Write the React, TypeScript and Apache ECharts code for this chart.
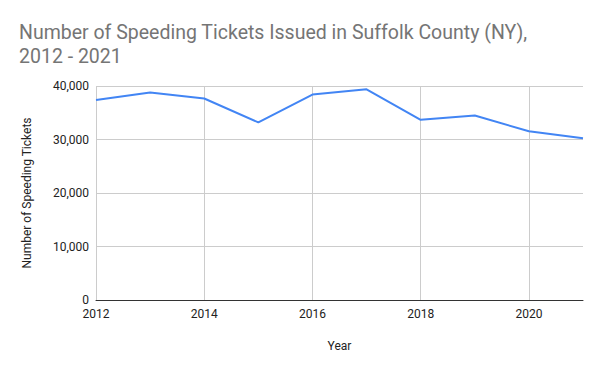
import React, { useEffect, useRef } from "react";
import * as echarts from "echarts";

const years = ["2012", "2013", "2014", "2015", "2016", "2017", "2018", "2019", "2020", "2021"];
const tickets = [37400, 38770, 37670, 33190, 38400, 39390, 33680, 34480, 31530, 30250];
const titleText = "Number of Speeding Tickets Issued in Suffolk County (NY),\n2012 - 2021";
const xName = "Year";
const yName = "Number of Speeding Tickets";

export default function App() {
  const ref = useRef<HTMLDivElement>(null);
  useEffect(() => {
    if (!ref.current) return;
    const chart = echarts.init(ref.current, null, { renderer: "svg" });
    chart.setOption({
      animation: false,
      backgroundColor: "#ffffff",
      textStyle: { fontFamily: "Roboto" },
      title: {
        text: titleText,
        left: 14,
        top: 15,
        textStyle: { fontFamily: "Roboto", fontSize: 19.5, fontWeight: "normal", color: "#757575", lineHeight: 24 },
      },
      grid: { left: 96, right: 17, top: 86, bottom: 71, containLabel: false },
      xAxis: {
        type: "category",
        data: years,
        boundaryGap: false,
        name: xName,
        nameLocation: "middle",
        nameGap: 40,
        nameTextStyle: { color: "#222222", fontSize: 12, fontFamily: "Roboto" },
        axisLine: { show: true, lineStyle: { color: "#333333", width: 1 } },
        axisTick: { show: false },
        axisLabel: {
          interval: (i: number) => i % 2 === 0,
          color: "#222222",
          fontSize: 12,
          margin: 8,
          fontFamily: "Roboto",
        },
        splitLine: {
          show: true,
          interval: (i: number) => i % 2 === 0,
          lineStyle: { color: "#cccccc", width: 1 },
        },
      },
      yAxis: {
        type: "value",
        min: 0,
        max: 40000,
        interval: 10000,
        name: yName,
        nameLocation: "middle",
        nameGap: 63,
        nameTextStyle: { color: "#222222", fontSize: 12, fontFamily: "Roboto" },
        axisLine: { show: false },
        axisTick: { show: false },
        axisLabel: {
          color: "#222222",
          fontSize: 12,
          margin: 7,
          fontFamily: "Roboto",
          formatter: (v: number) => v.toLocaleString("en-US"),
        },
        splitLine: { show: true, lineStyle: { color: "#cccccc", width: 1 } },
      },
      series: [
        {
          type: "line",
          data: tickets,
          showSymbol: false,
          symbol: "none",
          lineStyle: { color: "#4285F4", width: 2 },
          itemStyle: { color: "#4285F4" },
        },
      ],
    });
    return () => chart.dispose();
  }, []);
  return <div ref={ref} style={{ width: 600, height: 371, position: "absolute", left: 0, top: 0 }} />;
}
